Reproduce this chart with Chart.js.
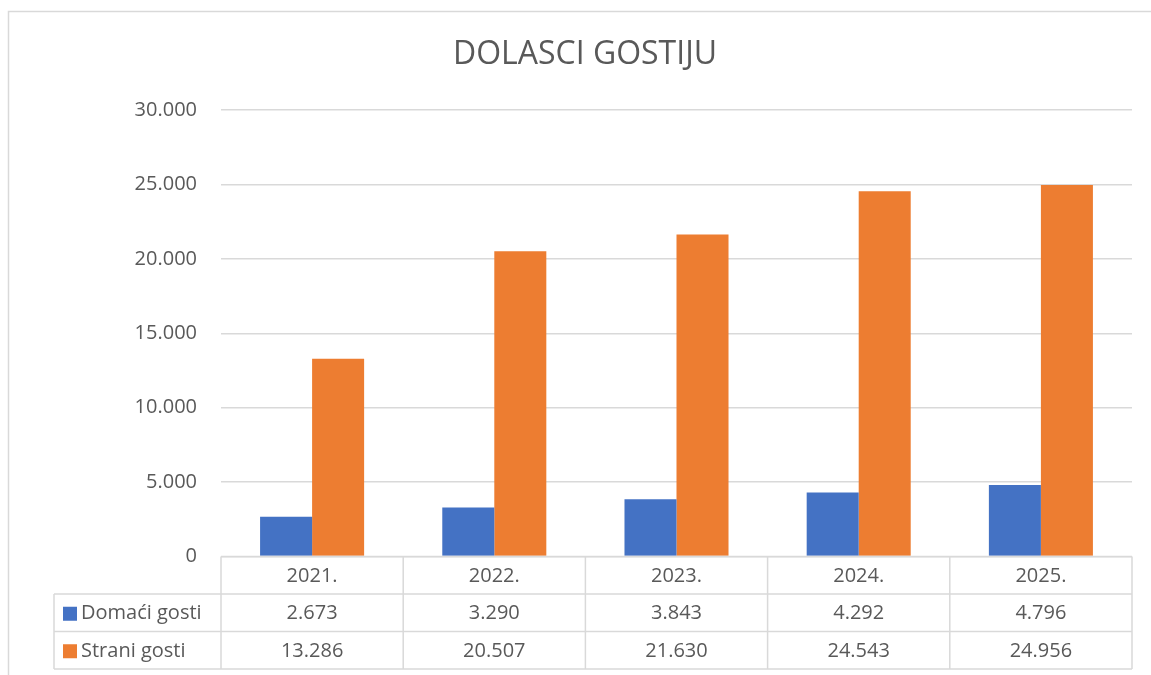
<!DOCTYPE html>
<html>
<head>
<meta charset="utf-8">
<title>Dolasci gostiju</title>
<script src="https://cdn.jsdelivr.net/npm/chart.js@4/dist/chart.umd.min.js"></script>
<style>
  body { margin: 0; background: #fff; }
  #wrap { width: 1151px; height: 675px; }
</style>
</head>
<body>
<div id="wrap"><canvas id="chart" width="1151" height="675"></canvas></div>
<script>
const categories = ['2021.', '2022.', '2023.', '2024.', '2025.'];
const domaci = [2673, 3290, 3843, 4292, 4796];
const strani = [13286, 20507, 21630, 24543, 24956];
const seriesNames = ['Domaći gosti', 'Strani gosti'];
const yMax = 30000;
const yStep = 5000;

const BLUE = '#4472C4';
const ORANGE = '#ED7D31';
const TEXT = '#595959';
const LINE = '#d9d9d9';
const FONT = "'Open Sans', sans-serif";

// hr format: 13.286
function fmt(v) {
  return v.toString().replace(/\B(?=(\d{3})+(?!\d))/g, '.');
}

const frame = {
  id: 'frame',
  beforeDraw(chart) {
    const ctx = chart.ctx;
    ctx.save();
    ctx.fillStyle = '#fff';
    ctx.fillRect(0, 0, chart.width, chart.height);
    ctx.strokeStyle = LINE;
    ctx.lineWidth = 1.5;
    ctx.beginPath();
    ctx.moveTo(8.5, chart.height);
    ctx.lineTo(8.5, 11.5);
    ctx.lineTo(chart.width, 11.5);
    ctx.stroke();
    ctx.restore();
  }
};

// data table under the plot, like the Excel one
const dataTable = {
  id: 'dataTable',
  afterDraw(chart) {
    const ctx = chart.ctx;
    const xs = chart.scales.x;
    const area = chart.chartArea;
    const n = categories.length;
    const colW = (area.right - area.left) / n;
    const rowH = 37.5;
    const top = area.bottom;
    const legendLeft = 54;
    const rows = [domaci, strani];
    const colors = [BLUE, ORANGE];

    ctx.save();
    ctx.strokeStyle = LINE;
    ctx.lineWidth = 1.5;
    ctx.beginPath();
    ctx.moveTo(area.left, top);
    ctx.lineTo(area.right, top);
    for (let r = 1; r <= 3; r++) {
      ctx.moveTo(legendLeft, top + r * rowH);
      ctx.lineTo(area.right, top + r * rowH);
    }
    for (let c = 0; c <= n; c++) {
      const x = area.left + c * colW;
      ctx.moveTo(x, top);
      ctx.lineTo(x, top + 3 * rowH);
    }
    ctx.moveTo(legendLeft, top + rowH);
    ctx.lineTo(legendLeft, top + 3 * rowH);
    ctx.stroke();

    ctx.fillStyle = TEXT;
    ctx.font = '20px ' + FONT;
    ctx.textAlign = 'center';
    ctx.textBaseline = 'middle';
    categories.forEach((c, i) => {
      ctx.fillText(c, xs.getPixelForValue(i), top + rowH / 2 + 1);
    });
    rows.forEach((vals, r) => {
      const cy = top + (r + 1.5) * rowH + 1;
      vals.forEach((v, i) => {
        ctx.fillText(fmt(v), xs.getPixelForValue(i), cy);
      });
      ctx.fillStyle = colors[r];
      ctx.fillRect(63, cy - 7, 14, 14);
      ctx.fillStyle = TEXT;
      ctx.textAlign = 'left';
      ctx.fillText(seriesNames[r], 81, cy);
      ctx.textAlign = 'center';
    });
    ctx.restore();
  }
};

new Chart(document.getElementById('chart'), {
  type: 'bar',
  data: {
    labels: categories,
    datasets: [
      { label: seriesNames[0], data: domaci, backgroundColor: BLUE },
      { label: seriesNames[1], data: strani, backgroundColor: ORANGE }
    ]
  },
  options: {
    responsive: false,
    animation: false,
    categoryPercentage: 0.571,
    barPercentage: 1,
    layout: { padding: { left: 38, right: 19, top: 0, bottom: 118.5 } },
    plugins: {
      legend: { display: false },
      tooltip: { enabled: false },
      title: {
        display: true,
        text: 'DOLASCI GOSTIJU',
        color: TEXT,
        font: { family: FONT, size: 32, weight: 'normal' },
        padding: { top: 36, bottom: 35.6 }
      }
    },
    scales: {
      x: { display: false },
      y: {
        min: 0,
        max: yMax,
        border: { display: false },
        grid: { color: LINE, lineWidth: 1.5, drawTicks: false },
        ticks: {
          stepSize: yStep,
          padding: 24,
          color: TEXT,
          font: { family: FONT, size: 20 },
          callback: v => fmt(v)
        },
        afterFit(scale) { scale.width = 183; }
      }
    }
  },
  plugins: [frame, dataTable]
});
</script>
</body>
</html>
